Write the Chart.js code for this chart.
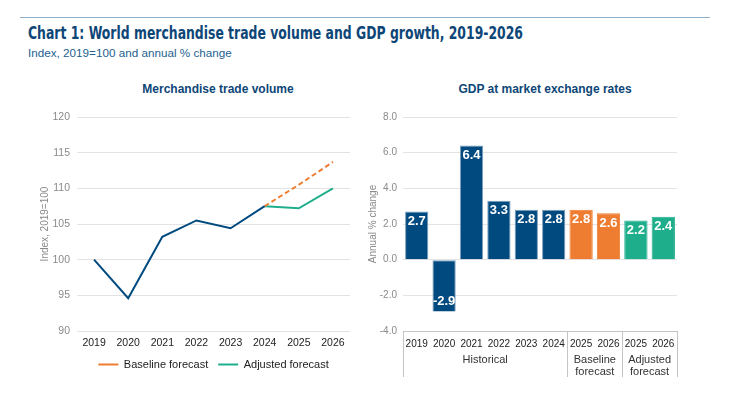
<!DOCTYPE html>
<html>
<head>
<meta charset="utf-8">
<script src="https://cdn.jsdelivr.net/npm/chart.js@4/dist/chart.umd.min.js"></script>
<style>
  body { margin: 0; background: #fff; width: 730px; height: 394px; position: relative; overflow: hidden; font-family: "Liberation Sans", Arial, sans-serif; }
  .rule { position: absolute; left: 20px; top: 17px; width: 690px; height: 1px; background: #8fb0cc; }
  .title { position: absolute; left: 28px; top: 23px; font: bold 17px "Liberation Sans Narrow", "DejaVu Sans Condensed", sans-serif; color: #0d4677; white-space: nowrap; transform-origin: 0 0; }
  .sub { position: absolute; left: 28px; top: 46px; font: 11.7px "Liberation Sans", sans-serif; color: #245f90; white-space: nowrap; }
  .ctitle { position: absolute; top: 82px; font: bold 12px "Liberation Sans", sans-serif; color: #0d4677; white-space: nowrap; transform: translateX(-50%); }
  .box { position: absolute; top: 100px; height: 294px; }
</style>
</head>
<body>
<div class="rule"></div>
<div class="title" id="title">Chart 1: World merchandise trade volume and GDP growth, 2019-2026</div>
<div class="sub">Index, 2019=100 and annual % change</div>
<div class="ctitle" style="left:218px">Merchandise trade volume</div>
<div class="ctitle" style="left:545px">GDP at market exchange rates</div>
<div class="box" style="left:0;width:360px"><canvas id="trade"></canvas></div>
<div class="box" style="left:360px;width:370px"><canvas id="gdp"></canvas></div>
<script>
// trade volume index
const years = ['2019', '2020', '2021', '2022', '2023', '2024', '2025', '2026'];
const historical = [100, 94.6, 103.2, 105.5, 104.4, 107.5, null, null];
const baseline = [null, null, null, null, null, 107.5, 110.5, 113.7];
const adjusted = [null, null, null, null, null, 107.5, 107.2, 110.0];

// GDP growth
const gdpYears = ['2019', '2020', '2021', '2022', '2023', '2024', '2025', '2026', '2025', '2026'];
const gdpValues = [2.7, -2.9, 6.4, 3.3, 2.8, 2.8, 2.8, 2.6, 2.2, 2.4];
const gdpGroups = [
    {label: ['Historical'], from: 0, to: 5},
    {label: ['Baseline', 'forecast'], from: 6, to: 7},
    {label: ['Adjusted', 'forecast'], from: 8, to: 9}
];

const BLUE = '#004a80', ORANGE = '#ee7d31', GREEN = '#1fae8c';
const gdpColors = gdpValues.map((v, i) => i < 6 ? BLUE : (i < 8 ? ORANGE : GREEN));

// fit the title to its width in the reference
const t = document.getElementById('title');
t.style.transform = 'scaleX(' + (495 / t.getBoundingClientRect().width) + ')';

const tickFont = {family: 'Liberation Sans', size: 10};
const grayTxt = '#8a8a8a';

new Chart(document.getElementById('trade'), {
    type: 'line',
    data: {
        labels: years,
        datasets: [
            {label: 'Historical', data: historical, borderColor: BLUE, borderWidth: 2, pointRadius: 0, spanGaps: false},
            {label: 'Baseline forecast', data: baseline, borderColor: ORANGE, borderWidth: 2, borderDash: [5, 3], pointRadius: 0},
            {label: 'Adjusted forecast', data: adjusted, borderColor: GREEN, borderWidth: 2, pointRadius: 0}
        ]
    },
    options: {
        responsive: true,
        maintainAspectRatio: false,
        animation: false,
        layout: {padding: {left: 35, right: 10, top: 17, bottom: 14}},
        plugins: {
            tooltip: {enabled: false},
            legend: {
                position: 'bottom',
                fullSize: false,
                labels: {
                    usePointStyle: true,
                    pointStyle: 'line',
                    pointStyleWidth: 20,
                    padding: 10,
                    color: '#222',
                    font: {family: 'Liberation Sans', size: 11},
                    filter: item => item.datasetIndex > 0
                }
            }
        },
        scales: {
            x: {
                offset: true,
                grid: {display: false, drawTicks: false},
                border: {display: false},
                ticks: {color: '#222', font: {family: 'Liberation Sans', size: 10.5}, padding: 6, maxRotation: 0},
                afterFit: s => { s.height = 18; }
            },
            y: {
                min: 90, max: 120,
                grid: {color: '#e3e3e3', drawTicks: false},
                border: {display: false},
                ticks: {stepSize: 5, color: grayTxt, font: {family: 'Liberation Sans', size: 10.5}, padding: 7},
                title: {display: true, text: 'Index, 2019=100', color: grayTxt, font: {family: 'Liberation Sans', size: 10}, padding: {top: 4, bottom: 4}},
                afterFit: s => { s.width = 42; }
            }
        }
    }
});

const groupAxis = {
    id: 'groupAxis',
    afterDraw(chart) {
        const ctx = chart.ctx, x = chart.scales.x, area = chart.chartArea;
        const top = area.bottom, bottom = area.bottom + 46;
        const edge = i => i < 0 ? area.left : (i >= gdpValues.length - 1 ? area.right : (x.getPixelForValue(i) + x.getPixelForValue(i + 1)) / 2);
        ctx.save();
        ctx.strokeStyle = '#c4c4c4';
        ctx.lineWidth = 1;
        ctx.beginPath();
        ctx.moveTo(area.left, top + 0.5);
        ctx.lineTo(area.right, top + 0.5);
        [-1, 5, 7, 9].forEach(i => {
            const px = Math.round(edge(i)) + 0.5;
            ctx.moveTo(px, top);
            ctx.lineTo(px, bottom);
        });
        ctx.stroke();
        ctx.fillStyle = '#333';
        ctx.font = '11px "Liberation Sans"';
        ctx.textAlign = 'center';
        ctx.textBaseline = 'middle';
        gdpGroups.forEach(g => {
            const cx = (edge(g.from - 1) + edge(g.to)) / 2;
            g.label.forEach((line, j) => ctx.fillText(line, cx, top + 29 + j * 12));
        });
        ctx.restore();
    }
};

const barLabels = {
    id: 'barLabels',
    afterDatasetsDraw(chart) {
        const ctx = chart.ctx;
        ctx.save();
        ctx.fillStyle = '#fff';
        ctx.font = 'bold 13px "Liberation Sans"';
        ctx.textAlign = 'center';
        ctx.textBaseline = 'middle';
        chart.getDatasetMeta(0).data.forEach((bar, i) => {
            const v = gdpValues[i];
            ctx.fillText(v.toFixed(1), bar.x, v >= 0 ? bar.y + 10 : bar.y - 10);
        });
        ctx.restore();
    }
};

new Chart(document.getElementById('gdp'), {
    type: 'bar',
    data: {
        labels: gdpYears,
        datasets: [{
            label: 'GDP growth',
            data: gdpValues,
            backgroundColor: gdpColors,
            borderColor: gdpColors.map(c => c === BLUE ? '#7f9fbd' : c),
            borderWidth: {top: 1, left: 1, right: 1, bottom: 0},
            borderSkipped: false,
            categoryPercentage: 1,
            barPercentage: 0.85
        }]
    },
    options: {
        responsive: true,
        maintainAspectRatio: false,
        animation: false,
        layout: {padding: {left: 3, right: 53, top: 17, bottom: 17}},
        plugins: {legend: {display: false}, tooltip: {enabled: false}},
        scales: {
            x: {
                grid: {display: false, drawTicks: false},
                border: {display: false},
                ticks: {color: '#222', font: tickFont, padding: 7, maxRotation: 0, autoSkip: false},
                afterFit: s => { s.height = 46; }
            },
            y: {
                min: -4, max: 8,
                grid: {color: ctx => ctx.tick.value === -4 ? 'rgba(0,0,0,0)' : '#e3e3e3', drawTicks: false},
                border: {display: false},
                ticks: {stepSize: 2, color: grayTxt, font: tickFont, padding: 6, callback: v => v.toFixed(1)},
                title: {display: true, text: 'Annual % change', color: grayTxt, font: {family: 'Liberation Sans', size: 10}, padding: {top: 4, bottom: 4}},
                afterFit: s => { s.width = 40; }
            }
        }
    },
    plugins: [barLabels, groupAxis]
});
</script>
</body>
</html>
